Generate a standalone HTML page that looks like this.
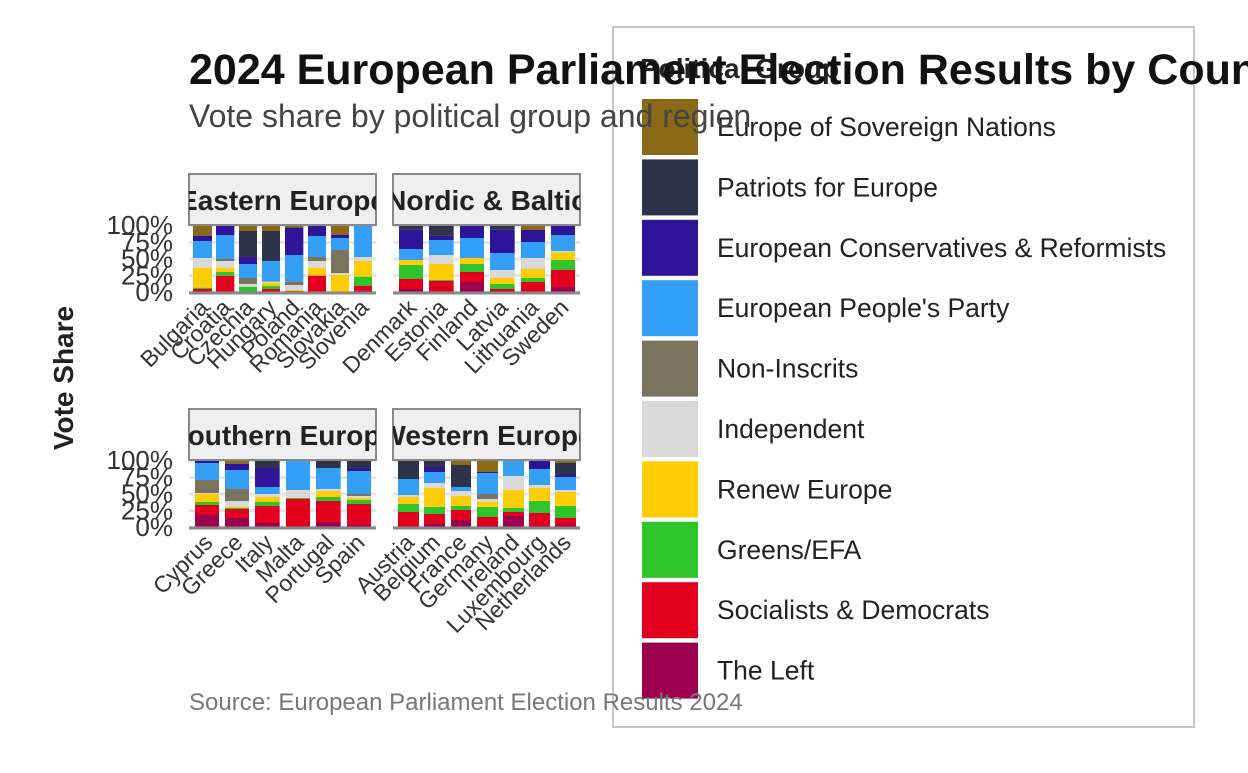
<!DOCTYPE html>
<html><head><meta charset="utf-8"><style>
body{margin:0;background:#fff;}
svg text{font-family:"Liberation Sans",sans-serif;}
</style></head><body>
<svg id="s" width="1248" height="768" xmlns="http://www.w3.org/2000/svg">
<rect width="1248" height="768" fill="#fff"/>
</svg>
<script>
const C={L:"#9E0050",SD:"#E3001F",G:"#2FC52A",R:"#FFCC05",I:"#D9D9D9",NI:"#7A735E",EPP:"#339FF5",ECR:"#2E1497",PFE:"#2E3349",ESN:"#8B6A17"};
const order=["L","SD","G","R","I","NI","EPP","ECR","PFE","ESN"];
const s=document.getElementById('s');let h='';
h+=`<rect x="613" y="27" width="581" height="700" fill="#fff" stroke="#c8c8c8" stroke-width="2"/>`;
const lg=[["ESN","Europe of Sovereign Nations"],["PFE","Patriots for Europe"],["ECR","European Conservatives &amp; Reformists"],["EPP","European People's Party"],["NI","Non-Inscrits"],["I","Independent"],["R","Renew Europe"],["G","Greens/EFA"],["SD","Socialists &amp; Democrats"],["L","The Left"]];
lg.forEach((e,i)=>{const y=99+i*60.4;h+=`<rect x="642" y="${y}" width="56" height="56" fill="${C[e[0]]}"/><text x="717" y="${y+37}" font-size="26.5" fill="#222">${e[1]}</text>`;});
h+=`<text x="640" y="78" font-size="28" font-weight="bold" fill="#222">Political Group</text>`;
function bars(oy,ox,list){
 list.forEach(b=>{const [nm,x1,x2,t]=b;let prev=216;
  order.forEach(k=>{if(t[k]!==undefined){const top=t[k];if(top<prev){h+=`<rect x="${ox+x1/3}" y="${oy+top/3}" width="${(x2-x1)/3}" height="${(prev-top)/3}" fill="${C[k]}"/>`;}prev=top;}});
  const cx=ox+(x1+x2)/6;h+=`<text transform="translate(${cx+7},${oy+89}) rotate(-45)" text-anchor="end" font-size="23" fill="#333">${nm}</text>`;
 });}
function panel(px,py,label){
 h+=`<rect x="${px}" y="${py+52}" width="187" height="68" fill="#fff"/>`;
 [0,0.25,0.5,0.75,1].forEach(f=>{const y=py+118-f*66;h+=`<line x1="${px}" x2="${px+187}" y1="${y}" y2="${y}" stroke="#e6e6e6" stroke-width="3"/>`;});
 h+=`<defs><clipPath id="c${px}${py}"><rect x="${px}" y="${py}" width="187" height="52"/></clipPath></defs>`;
 h+=`<rect x="${px}" y="${py}" width="187" height="51" fill="#efefef" stroke="#888" stroke-width="2"/>`;
 h+=`<text clip-path="url(#c${px}${py})" x="${px+93.5}" y="${py+36}" text-anchor="middle" font-size="28" font-weight="bold" fill="#222">${label}</text>`;
}
function axis(px,py){h+=`<line x1="${px}" x2="${px+187}" y1="${py+119}" y2="${py+119}" stroke="#888" stroke-width="3"/>`;}
function yt(py){["0%","25%","50%","75%","100%"].forEach((t,i)=>{h+=`<text x="173" y="${py+118-i*16.75+9}" text-anchor="end" font-size="26" fill="#333">${t}</text>`;});}
panel(189,174,"Eastern Europe");panel(393,174,"Nordic &amp; Baltic");panel(189,409,"Southern Europe");panel(393,409,"Western Europe");
bars(220,185,[
["Bulgaria",24,81,{SD:207,G:203,R:143,I:114,EPP:63,ECR:47,ESN:18}],
["Croatia",93,148,{SD:167,G:156,R:143,I:123,NI:117,EPP:45,ECR:18}],
["Czechia",162,216,{G:200,I:192,NI:174,EPP:132,ECR:111,PFE:33,ESN:18}],
["Hungary",231,285,{SD:207,G:198,R:188,I:185,EPP:123,PFE:33,ESN:18}],
["Poland",300,355,{L:214,SD:213,R:210,I:195,NI:185,EPP:105,ECR:24,PFE:22,ESN:18}],
["Romania",369,423,{SD:167,R:143,I:123,NI:111,EPP:48,ECR:18}],
["Slovakia",438,492,{R:165,I:159,NI:90,EPP:54,ECR:45,ESN:18}],
["Slovenia",507,561,{L:212,SD:197,G:170,R:123,I:111,EPP:18}]]);
bars(220,185,[
["Denmark",642,714,{L:207,SD:177,G:135,R:120,EPP:87,ECR:29,PFE:18}],
["Estonia",732,806,{SD:183,G:180,R:132,I:105,EPP:60,ECR:47,PFE:18}],
["Finland",825,897,{L:186,SD:156,G:132,R:114,EPP:54,ECR:18}],
["Latvia",915,989,{SD:207,G:192,R:174,I:150,EPP:99,ECR:29,PFE:18}],
["Lithuania",1008,1080,{SD:186,G:174,R:147,I:114,EPP:66,ECR:30,ESN:18}],
["Sweden",1098,1170,{L:201,SD:150,G:120,R:96,I:93,EPP:45,ECR:18}]]);
bars(455,185,[
["Cyprus",30,102,{L:180,SD:150,G:141,R:117,I:114,NI:75,EPP:24,ECR:18}],
["Greece",120,192,{L:189,SD:162,G:159,R:156,I:138,NI:102,EPP:45,ECR:27,ESN:18}],
["Italy",210,284,{L:204,SD:153,G:141,R:126,I:117,EPP:96,ECR:39,PFE:18}],
["Malta",303,375,{SD:132,G:129,I:105,EPP:18}],
["Portugal",393,467,{L:201,SD:138,G:126,R:108,I:102,EPP:39,PFE:18}],
["Spain",486,558,{L:210,SD:147,G:135,R:129,I:123,NI:117,EPP:48,ECR:39,PFE:18}]]);
bars(455,185,[
["Austria",639,702,{SD:171,G:147,R:126,I:120,EPP:72,PFE:18}],
["Belgium",717,780,{L:207,SD:177,G:156,R:99,I:84,EPP:51,ECR:36,PFE:18}],
["France",798,858,{L:195,SD:165,G:153,R:123,I:108,EPP:96,PFE:30,ESN:18}],
["Germany",876,939,{L:213,SD:186,G:156,R:141,I:132,NI:117,EPP:54,ECR:51,ESN:18}],
["Ireland",954,1017,{L:183,SD:171,G:159,R:105,I:63,EPP:18}],
["Luxembourg",1032,1095,{L:213,SD:174,G:138,R:99,I:90,EPP:42,ECR:18}],
["Netherlands",1110,1173,{L:210,SD:189,G:153,R:111,I:105,EPP:66,ECR:60,PFE:24,ESN:18}]]);
axis(189,174);axis(393,174);axis(189,409);axis(393,409);yt(174);yt(409);
h+=`<text transform="translate(73,378) rotate(-90)" text-anchor="middle" font-size="28" font-weight="bold" fill="#222">Vote Share</text>`;
h+=`<text x="189" y="710" font-size="24" fill="#777">Source: European Parliament Election Results 2024</text>`;
h+=`<text x="189" y="84" font-size="43" font-weight="bold" fill="#111">2024 European Parliament Election Results by Country</text>`;
h+=`<text x="189" y="127" font-size="32" fill="#444">Vote share by political group and region</text>`;
s.innerHTML+=h;
</script>
</body></html>
